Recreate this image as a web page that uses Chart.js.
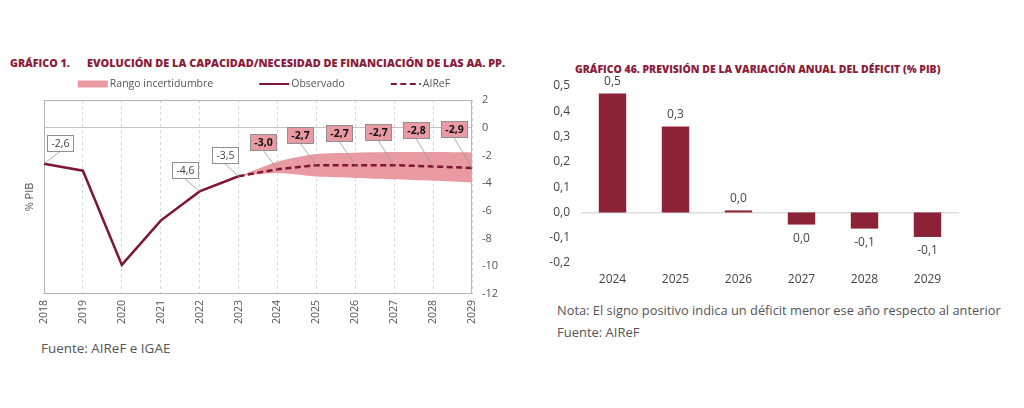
<!DOCTYPE html>
<html>
<head>
<meta charset="utf-8">
<script src="https://cdn.jsdelivr.net/npm/chart.js@4.4.1/dist/chart.umd.min.js"></script>
<style>
  body { margin: 0; background: #fff; width: 1024px; height: 408px; position: relative; overflow: hidden; font-family: "Open Sans", sans-serif; }
  .titulo { position: absolute; color: #8c1c3b; font-weight: 800; font-size: 11px; line-height: 11px; white-space: nowrap; transform-origin: left center; }
  .nota { position: absolute; color: #555; font-size: 12.5px; line-height: 13px; white-space: nowrap; transform-origin: left center; }
  canvas { position: absolute; }
  #grafico1 { left: 0; top: 70px; }
  #grafico2 { left: 540px; top: 55px; }
</style>
</head>
<body>
<div class="titulo" id="t1a" style="left:10px;top:57px">GRÁFICO 1.</div>
<div class="titulo" id="t1b" style="left:87px;top:57px">EVOLUCIÓN DE LA CAPACIDAD/NECESIDAD DE FINANCIACIÓN DE LAS AA. PP.</div>
<div class="titulo" id="t2" style="left:575px;top:63px">GRÁFICO 46. PREVISIÓN DE LA VARIACIÓN ANUAL DEL DÉFICIT (% PIB)</div>
<div class="nota" id="f1" style="left:41px;top:342px">Fuente: AIReF e IGAE</div>
<div class="nota" id="n2" style="left:557px;top:304px">Nota: El signo positivo indica un déficit menor ese año respecto al anterior</div>
<div class="nota" id="f2" style="left:557px;top:326px">Fuente: AIReF</div>
<canvas id="grafico1" width="526" height="280"></canvas>
<canvas id="grafico2" width="470" height="250"></canvas>
<script>
// Gráfico 1: capacidad/necesidad de financiación (% PIB)
const years = ['2018', '2019', '2020', '2021', '2022', '2023', '2024', '2025', '2026', '2027', '2028', '2029'];
const observado = [-2.6, -3.1, -9.9, -6.7, -4.6, -3.5, null, null, null, null, null, null];
const airef = [null, null, null, null, null, -3.5, -3.0, -2.7, -2.7, -2.7, -2.8, -2.9];
const rangoSup = [null, null, null, null, null, -3.5, -2.45, -1.9, -1.8, -1.76, -1.75, -1.78];
const rangoInf = [null, null, null, null, null, -3.5, -3.27, -3.52, -3.62, -3.72, -3.83, -3.95];
const etiqObservado = [0, 4, 5];
const etiqAiref = [6, 7, 8, 9, 10, 11];

// Gráfico 46: variación anual del déficit (% PIB)
const anios = ['2024', '2025', '2026', '2027', '2028', '2029'];
const variacion = [0.47, 0.34, 0.008, -0.048, -0.064, -0.097];

const GRANATE = '#7e1734';
const ROSA = '#e99aa3';
const BARRA = '#8c2235';

Chart.defaults.font.family = '"Open Sans", sans-serif';
Chart.defaults.color = '#555';

const fmt = (v) => {
  let s = v.toFixed(1).replace('.', ',');
  if (s === '-0,0') s = '0,0';
  return s;
};

// ajusta el ancho de los textos al original
function fitWidth(id, w) {
  const el = document.getElementById(id);
  el.style.transform = `scaleX(${w / el.offsetWidth})`;
}
fitWidth('t1a', 60);
fitWidth('t1b', 418);
fitWidth('t2', 365);
fitWidth('f1', 129);
fitWidth('n2', 444);
fitWidth('f2', 82);

// marco del área de trazado
const marco = {
  id: 'marco',
  beforeDatasetsDraw(chart) {
    const { ctx, chartArea: a } = chart;
    ctx.save();
    ctx.strokeStyle = '#b4b4b4';
    ctx.lineWidth = 1;
    ctx.strokeRect(Math.round(a.left) + 0.5, Math.round(a.top) + 0.5, Math.round(a.width) - 1, Math.round(a.height) - 1);
    ctx.restore();
  },
};

// leyenda dibujada a mano
const leyenda = {
  id: 'leyenda',
  afterDraw(chart, args, opts) {
    const ctx = chart.ctx;
    ctx.save();
    ctx.font = '10.5px "Open Sans"';
    ctx.textBaseline = 'middle';
    const items = opts.orden.map((i) => chart.data.datasets[i]);
    const w = items.map((ds) => 30 + 2 + ctx.measureText(ds.label).width);
    const total = w.reduce((a, b) => a + b, 0) + opts.gap * (items.length - 1);
    let x = opts.cx - total / 2;
    const y = opts.y;
    items.forEach((ds, k) => {
      if (ds.fill) {
        ctx.fillStyle = ds.backgroundColor;
        ctx.fillRect(x, y - 3.5, 30, 7);
      } else {
        ctx.strokeStyle = ds.borderColor;
        ctx.lineWidth = 2;
        ctx.setLineDash(ds.borderDash || []);
        ctx.beginPath();
        ctx.moveTo(x, y);
        ctx.lineTo(x + 30, y);
        ctx.stroke();
        ctx.setLineDash([]);
      }
      ctx.fillStyle = '#555';
      ctx.fillText(ds.label, x + 32, y);
      x += w[k] + opts.gap;
    });
    ctx.restore();
  },
};

// etiquetas con recuadro y línea guía
const recuadros = {
  id: 'recuadros',
  afterDatasetsDraw(chart, args, opts) {
    const ctx = chart.ctx;
    ctx.save();
    opts.series.forEach((s) => {
      const meta = chart.getDatasetMeta(s.dataset);
      const values = chart.data.datasets[s.dataset].data;
      s.indices.forEach((idx, k) => {
        const p = meta.data[idx];
        const [dx, dy] = s.offsets[k];
        const txt = fmt(values[idx]);
        ctx.font = (s.bold ? 'bold ' : '') + '10.5px "Open Sans"';
        const bw = Math.round(ctx.measureText(txt).width + 8);
        const bh = 16;
        const cx = p.x + dx;
        const cy = p.y + dy;
        const left = Math.round(cx - bw / 2) + 0.5;
        const top = Math.round(cy - bh / 2) + 0.5;
        ctx.strokeStyle = '#9a9a9a';
        ctx.lineWidth = 0.8;
        ctx.beginPath();
        ctx.moveTo(cx, top + bh);
        ctx.lineTo(p.x, p.y);
        ctx.stroke();
        ctx.fillStyle = s.fondo;
        ctx.fillRect(left, top, bw, bh);
        ctx.strokeStyle = '#8f8f8f';
        ctx.lineWidth = 1;
        ctx.strokeRect(left, top, bw, bh);
        ctx.fillStyle = s.color;
        ctx.textAlign = 'center';
        ctx.textBaseline = 'middle';
        ctx.fillText(txt, left + bw / 2, top + bh / 2 + 0.5);
      });
    });
    ctx.restore();
  },
};

new Chart(document.getElementById('grafico1'), {
  type: 'line',
  data: {
    labels: years,
    datasets: [
      { label: 'Observado', data: observado, borderColor: GRANATE, borderWidth: 2.5, pointRadius: 0, tension: 0, yAxisID: 'y' },
      { label: 'AIReF', data: airef, borderColor: GRANATE, borderWidth: 2.5, borderDash: [6, 3.5], pointRadius: 0, tension: 0, yAxisID: 'y' },
      { label: 'Rango incertidumbre', data: rangoSup, borderWidth: 0, backgroundColor: ROSA, fill: '+1', pointRadius: 0, tension: 0.25, yAxisID: 'y' },
      { label: 'inf', data: rangoInf, borderWidth: 0, pointRadius: 0, tension: 0.25, fill: false, yAxisID: 'y' },
    ],
  },
  options: {
    responsive: false,
    animation: false,
    layout: { padding: { top: 30, left: 0, right: 0, bottom: 0 } },
    plugins: {
      legend: { display: false },
      tooltip: { enabled: false },
      leyenda: { orden: [2, 0, 1], cx: 264, y: 14, gap: 46 },
      recuadros: {
        series: [
          { dataset: 0, indices: etiqObservado, offsets: [[16, -21], [-15, -21], [-14, -21]], fondo: '#fff', color: '#444', bold: false },
          { dataset: 1, indices: etiqAiref, offsets: [[-14, -27], [-16, -30], [-16, -32], [-16, -33], [-17, -37], [-18, -39]], fondo: ROSA, color: '#111', bold: true },
        ],
      },
    },
    scales: {
      x: {
        offset: false,
        grid: { color: '#d6d6d6', drawTicks: false },
        border: { display: false, dash: [3, 3] },
        ticks: { minRotation: 90, maxRotation: 90, padding: 6, color: '#555', font: { size: 10.5 } },
        afterFit(s) { s.height = 56; },
      },
      y: {
        position: 'right',
        min: -12,
        max: 2,
        ticks: { stepSize: 2, padding: 10, color: '#555', font: { size: 11 } },
        grid: { drawTicks: false, color: (c) => (c.tick && c.tick.value === 0 ? '#c4c4c4' : 'rgba(0,0,0,0)') },
        border: { display: false },
        afterFit(s) { s.width = 54; },
      },
      yl: {
        position: 'left',
        min: -12,
        max: 2,
        ticks: { display: false },
        grid: { display: false, drawTicks: false },
        border: { display: false },
        title: { display: true, text: '% PIB', color: '#555', font: { size: 11 }, padding: { top: 23, bottom: 0 } },
        afterFit(s) { s.width = 44; },
      },
    },
  },
  plugins: [marco, leyenda, recuadros],
});

// etiquetas de valor sobre/bajo las barras
const valores = {
  id: 'valores',
  afterDatasetsDraw(chart) {
    const ctx = chart.ctx;
    const meta = chart.getDatasetMeta(0);
    ctx.save();
    ctx.font = '12px "Open Sans"';
    ctx.fillStyle = '#444';
    ctx.textAlign = 'center';
    ctx.textBaseline = 'middle';
    meta.data.forEach((bar, i) => {
      const v = variacion[i];
      const y = v >= 0 ? bar.y - 12 : bar.y + 14;
      ctx.fillText(fmt(v), bar.x, y);
    });
    ctx.restore();
  },
};

new Chart(document.getElementById('grafico2'), {
  type: 'bar',
  data: {
    labels: anios,
    datasets: [{ label: 'Variación', data: variacion, backgroundColor: BARRA, barPercentage: 0.435, categoryPercentage: 1 }],
  },
  options: {
    responsive: false,
    animation: false,
    layout: { padding: { top: 31, left: 0, right: 51, bottom: 0 } },
    plugins: { legend: { display: false }, tooltip: { enabled: false } },
    scales: {
      x: {
        grid: { display: false, drawTicks: false },
        border: { display: false },
        ticks: { padding: 9, color: '#444', font: { size: 12 } },
        afterFit(s) { s.height = 42; },
      },
      y: {
        min: -0.2,
        max: 0.5,
        ticks: { stepSize: 0.1, padding: 11, color: '#444', font: { size: 12 }, callback: (v) => fmt(v) },
        grid: { drawTicks: false, lineWidth: 1.5, color: (c) => (c.tick && Math.abs(c.tick.value) < 1e-9 ? '#dedede' : 'rgba(0,0,0,0)') },
        border: { display: false },
        afterFit(s) { s.width = 41; },
      },
    },
  },
  plugins: [valores],
});
</script>
</body>
</html>
